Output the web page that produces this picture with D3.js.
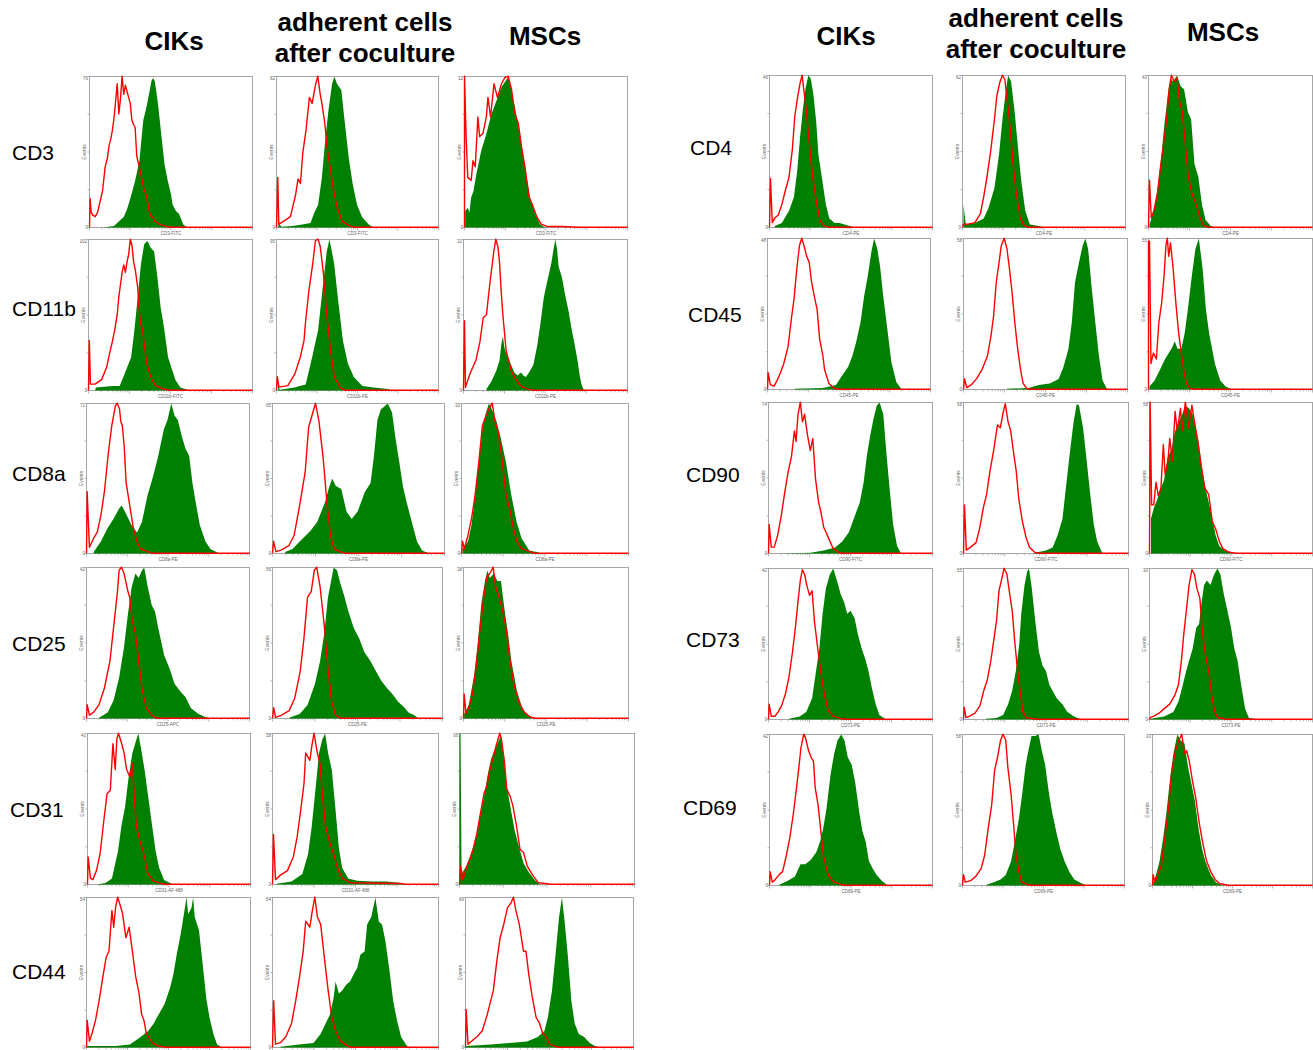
<!DOCTYPE html>
<html>
<head>
<meta charset="utf-8">
<script src="https://cdn.jsdelivr.net/npm/d3@7"></script>
<style>
  html, body { margin: 0; padding: 0; background: #fff; }
  svg { display: block; font-family: "Liberation Sans", Arial, sans-serif; }
</style>
</head>
<body>
<div id="fig"></div>
<script>
// Flow cytometry overlays: red = isotype control, green = stained sample.
// Each curve is [x, y] with x in % of the log axis width, y in % of the panel max.

const groups = ['CIKs', ['adherent cells', 'after coculture'], 'MSCs'];
const leftMarkers = ['CD3', 'CD11b', 'CD8a', 'CD25', 'CD31', 'CD44'];
const rightMarkers = ['CD4', 'CD45', 'CD90', 'CD73', 'CD69'];

const xLabels = {
  CD3: ['CD3-FITC', 'CD3-FITC', 'CD3-FITC'], CD11b: ['CD11b-FITC', 'CD11b-PE', 'CD11b-PE'],
  CD8a: ['CD8a-PE', 'CD8a-PE', 'CD8a-PE'], CD25: ['CD25-APC', 'CD25-PE', 'CD25-PE'],
  CD31: ['CD31-AF 488', 'CD31-AF 488', ''], CD44: ['', '', ''],
  CD4: ['CD4-PE', 'CD4-PE', 'CD4-PE'], CD45: ['CD45-PE', 'CD45-PE', 'CD45-PE'],
  CD90: ['CD90-FITC', 'CD90-FITC', 'CD90-FITC'], CD73: ['CD73-PE', 'CD73-PE', 'CD73-PE'],
  CD69: ['CD69-PE', 'CD69-PE', 'CD69-PE']
};
const maxTicks = {
  CD3: [76, 82, 32], CD11b: [102, 95, 31], CD8a: [71, 65, 33], CD25: [42, 56, 38],
  CD31: [41, 58, 36], CD44: [54, 54, 66], CD4: [46, 62, 43], CD45: [48, 58, 55],
  CD90: [74, 58, 58], CD73: [42, 55, 30], CD69: [42, 58, 33]
};

const CD3_iso = [
  [[0.4,19],[1,10],[2,8],[3.5,7],[5,10],[6.5,17],[8,24],[9.6,40],[11,46],[12,54],[13,58],[14,64],[15,72],[16,83],[17,95],[18,75],[19,85],[20,100],[21,88],[22,94],[23,90],[24,86],[25,82],[26,71],[27,68],[28,66],[29,47],[31,38],[33,27],[35,20],[37,9],[39,6],[40,4],[43,2],[47,0.5],[50,0]],
  [[0.8,33],[1.4,2],[4.5,4],[8.6,7],[11.7,21],[13.3,32],[14.8,29],[16.2,49],[18.3,65],[20.3,86],[22,82],[24,94],[25.5,100],[27,88],[28,82],[29.8,69],[31.2,53],[33.3,38],[35.3,24],[37.4,13],[40.5,4],[44.6,1],[48,0]],
  [[0,100],[1,60],[2,33],[4.1,31],[5.2,44],[6.6,40],[8.2,73],[9.3,60],[11.3,62],[13.4,73],[14.4,86],[16,73],[18.1,95],[20.2,86],[22.7,95],[24.7,99],[26.8,100],[28.9,91],[30.9,75],[33,69],[35,53],[37.1,40],[39.6,20],[41.6,15],[44.3,7],[47,2],[50.5,0.5],[60,0.5],[70,0]]
];
const CD3_stain = [
  [[8.6,0],[15,1],[18,4],[21,7],[23,12],[25,19],[28,31],[30.6,44],[32,60],[33,71],[35,80],[37,91],[38,97],[39,99],[40,97],[41,90],[42,82],[44,62],[46,42],[48,31],[50,22],[51,15],[53,11],[55,9],[57.5,2],[60,0]],
  [[1,0],[1.4,3],[3,0.5],[9.7,1],[15.8,2],[21,3],[23,9],[25.7,15],[28,33],[30,57],[32,77],[34.3,95],[35.7,100],[37.4,95],[40,91],[42,71],[44.6,46],[47,29],[49.7,15],[52.8,7],[56.9,2],[60,0]],
  [[0.4,11],[2,13],[3,10],[4.1,20],[5.5,24],[7.2,35],[10.3,51],[13.4,62],[16.5,75],[19.6,84],[22.7,93],[25.8,98],[26.8,100],[27.8,95],[30.9,80],[34,62],[37.1,40],[40.2,20],[43.3,9],[46.4,2],[49.5,0]]
];

const CD11b_iso = [
  [[0.5,33],[1.2,4],[4,4],[8,7],[11,15],[13,25],[14.5,32],[16,40],[17.5,50],[18.5,62],[19.5,70],[20.5,78],[21.5,83],[22.5,78],[23.5,85],[24.5,90],[25.5,100],[26.5,96],[27.5,85],[28.5,80],[30,68],[31,52],[32,43],[33,40],[34,30],[35.5,18],[37,12],[38.7,7],[41,3],[45,1],[50,0]],
  [[0.5,9],[1.5,2],[7,3],[11.4,11],[14.7,22],[17,33],[18,46],[20,66],[22.4,84],[24,99],[25.7,100],[27,95],[29,77],[31,50],[33.4,26],[35.6,9],[39,2],[42,0]],
  [[0.6,46],[1.2,2],[4,11],[7.6,20],[10,32],[12,48],[14,50],[16,70],[18.5,92],[19.7,100],[21,95],[22,84],[23,65],[24,50],[25,38],[26,26],[28,18],[29,13],[32,7],[34,4],[36,2],[40,0.5],[43,0]]
];
const CD11b_stain = [
  [[4,0],[4.5,2],[15,3],[19,3],[22,11],[26,22],[28,40],[30,62],[32,84],[34,97],[36,99],[37.6,95],[40,92],[42,75],[44,55],[46,42],[48.5,22],[50.6,15],[53,7],[56,2],[59,1],[62,0]],
  [[1,0],[1.2,3],[2,0.5],[11,2],[18,4],[22,22],[25.7,40],[29,73],[31,92],[32.7,100],[35.6,84],[37.8,62],[41,33],[44,18],[47.7,9],[53,3],[60,2],[68.6,1],[72,0]],
  [[14,1],[17,6],[20,13],[22,20],[23,30],[24,36],[25,28],[27,22],[29,17],[31,12],[33,10],[35,12],[36.5,10],[38,9],[40,12],[42.6,17],[45,30],[47,45],[49,62],[51,72],[53.5,84],[55,94],[56,100],[57,94],[58,82],[60,75],[62,63],[64,53],[66,40],[67.7,31],[69.5,20],[71,9],[72,4],[73,1],[75,0]]
];

const CD8a_iso = [
  [[0.4,41],[1.8,4],[4.4,10],[6.6,14],[8.8,25],[11,41],[13.2,65],[15.5,85],[17.7,98],[18.8,100],[20.3,96],[21,88],[22,85],[23.2,70],[24.3,47],[26.5,32],[28.7,17],[30.9,8],[33,3],[37.5,1],[40,0]],
  [[0.6,8],[2,1],[5,2],[9.5,5],[12.6,12],[15.8,32],[19,54],[21,84],[23,92],[25,100],[27,88],[29.5,63],[31.6,34],[33.7,12],[35.8,3],[39,1],[42,0]],
  [[0.6,8],[1.7,3],[3.9,12],[6,23],[8.2,39],[10.4,61],[12.5,85],[14.7,92],[16.8,97],[18.4,100],[20,88],[22,81],[24.4,61],[26.6,39],[28.7,30],[31,17],[33,8],[36,3],[40.6,1],[44,0]]
];
const CD8a_stain = [
  [[4.4,1],[8.8,8],[13,17],[16.5,23],[20,30],[21.6,32],[24,27],[27.6,19],[31,14],[34,21],[37.5,39],[41,52],[44,65],[47.5,83],[49.7,89],[52,100],[54,92],[56,89],[58.5,78],[60.7,70],[63,65],[65,47],[67,34],[69.5,19],[73,8],[76,3],[80.6,0.5],[82,0]],
  [[7.4,1],[11.6,3],[15.8,8],[22,15],[26,21],[30.5,34],[32.6,43],[34.7,50],[36.8,45],[40,43],[43,28],[46,23],[49.5,28],[53.7,41],[57,47],[59,65],[61,89],[63,96],[65,98],[67,100],[69.5,94],[71.6,76],[73.7,61],[75.8,45],[78,34],[81,21],[84,8],[87,2],[90,0.5],[92,0]],
  [[0.6,3],[3.9,8],[6,19],[8.2,39],[10.4,61],[12.5,83],[14.7,94],[16.4,100],[19,94],[21,88],[23.3,78],[26.6,61],[29.8,39],[33,21],[36,10],[40.6,2],[45,1],[48,0]]
];

const CD25_iso = [
  [[0.4,9],[1.8,2],[4.4,4],[7.7,9],[11,20],[14.4,38],[16.6,60],[19,84],[20,98],[21.5,100],[23,96],[25.4,84],[26.5,80],[28,65],[30,56],[32,38],[34,20],[36.5,7],[40,2],[43,0]],
  [[0.7,7],[1.8,0.5],[5.4,2],[9.8,5],[13,13],[16.3,31],[18.5,53],[20.6,80],[22.8,84],[24.6,98],[26,100],[28,87],[30.4,62],[32.6,33],[34.8,11],[37,2],[40,0]],
  [[0.4,16],[1.5,3],[3.2,7],[5.4,16],[7.6,34],[9.7,56],[12,78],[14,93],[16,96],[18,100],[19.4,87],[21.6,80],[23.8,71],[26,58],[28,40],[30,25],[33.5,11],[36.7,4],[41,0.5],[44,0]]
];
const CD25_stain = [
  [[7.7,0.5],[13,4],[16.6,12],[20,27],[23,47],[25.4,69],[27.7,87],[30,96],[32,93],[34,98],[35.4,100],[37.6,87],[40,75],[42,71],[44,60],[47.6,42],[51,33],[54,23],[57.5,18],[60.8,14],[64,7],[68.6,3],[73,1],[76,0]],
  [[9.8,0.5],[16,3],[20.6,9],[25,23],[28,38],[30.4,56],[32.6,80],[34.8,93],[36,100],[38,98],[40,89],[42,82],[44.6,71],[47.8,60],[51,53],[54,44],[57.6,38],[61,31],[64,25],[67.4,20],[70.6,16],[74,11],[77,8],[80,4],[83.7,2],[86,0]],
  [[0.4,3],[3.2,9],[6.5,29],[8.6,49],[10.8,76],[13,91],[14.5,98],[16,93],[18.4,96],[20.5,91],[22.7,91],[25,71],[27,56],[29,38],[32.4,18],[35.6,7],[39,2],[42,0]]
];

const CD31_iso = [
  [[0.4,18],[1.8,4],[3.3,3],[5.5,9],[7.7,20],[10,42],[12,60],[14,62],[15.6,93],[17,76],[18,96],[19,100],[21,93],[22.4,87],[24,76],[26,71],[27.5,80],[28.6,60],[30,38],[32,29],[34,22],[35,18],[37,7],[40.6,2],[45,0.5],[48,0]],
  [[0.6,33],[1.8,3],[4.8,6],[9,9],[12.5,18],[14.8,31],[17,49],[19,67],[20,87],[22.5,82],[23.6,91],[25,100],[27,87],[28.6,80],[30,60],[32,38],[34.6,27],[36.8,20],[39,11],[42,4],[46.7,1],[77.5,0.5],[80,0]],
  [[0.6,12],[2,3],[3.7,10],[5.8,16],[7.8,23],[10,34],[12,47],[14,60],[15.6,65],[17,74],[19,83],[21,92],[23,100],[24,96],[25.7,81],[27,63],[29,58],[30.5,52],[32.5,39],[34.6,23],[36.6,21],[38.7,12],[41.8,6],[45,1],[49,0.5],[52,0]]
];
const CD31_stain = [
  [[5.5,0],[11,1],[15,4],[18.7,22],[21,40],[23,51],[25,69],[27.5,87],[30,96],[31.2,100],[33,89],[35,76],[37,60],[39.5,40],[41.8,22],[44,11],[47,3],[51.6,0.5],[54,0]],
  [[2.6,0.5],[11.5,2],[18,7],[21.4,20],[23.6,38],[25.8,62],[28,87],[30,96],[31.7,100],[33.5,87],[35.7,76],[38,49],[40,24],[42,11],[45.6,4],[51,2.5],[60,2],[68.7,2],[77.5,1],[80,0]],
  [[0,100],[0.6,100],[1.2,7],[3.7,12],[5.8,18],[7.8,25],[10,34],[12,47],[14,58],[16,72],[18,83],[20,89],[22,94],[23.7,99],[25,87],[27,65],[29,52],[31.5,36],[33.5,27],[36.6,14],[39.7,8],[43,3],[46,0]]
];

const CD44_iso = [
  [[0.4,18],[1.8,4],[3.3,9],[5.5,18],[7.7,31],[10,47],[12,60],[13.7,64],[15.5,91],[16.6,80],[17.7,93],[19,100],[21,93],[22,89],[24,73],[26,80],[27.6,67],[30,47],[32,36],[33.6,22],[35,18],[36.5,9],[40,3],[43,1],[46,0.5],[48,0]],
  [[0.7,31],[1.8,2],[4.8,3],[8,7],[11.5,16],[14,31],[16.3,47],[18.5,64],[20,84],[22.5,80],[24,91],[25.5,100],[27,87],[29,82],[31,62],[33.5,38],[35.7,20],[38,11],[41,4],[45.6,0.5],[48,0]],
  [[0.4,25],[1.5,2],[3.6,4],[6.8,7],[10,11],[13,22],[16.6,38],[18.5,56],[20.6,73],[22.8,82],[25,93],[27,96],[28.5,100],[30,91],[32,82],[34.5,64],[36,64],[37.6,49],[39.8,33],[42,20],[44,16],[46,9],[48,7],[50,2],[53.6,0.5],[56,0]]
];
const CD44_stain = [
  [[0,1],[17.7,1],[26.5,2],[33,7],[37.6,11],[41,16],[44,22],[47.6,29],[51,40],[53,49],[55,62],[57.5,76],[59.7,91],[61,100],[62,89],[64,93],[65,100],[66,87],[68.6,78],[70.8,56],[73,33],[75,20],[77.4,9],[79.6,2],[82,0.5],[84,0]],
  [[4.8,0.5],[16,2],[24.7,3],[29,9],[32,16],[34.6,22],[36.8,33],[38,44],[40,36],[42,38],[44.5,42],[46.7,44],[49,49],[51,53],[53,62],[55.5,64],[57,82],[59.5,87],[62,100],[64,84],[66,82],[68,71],[70.5,51],[72.7,31],[75,18],[77.5,7],[81,1],[83,0]],
  [[0.4,1],[15,2],[26,3],[36.6,4],[43,7],[47,11],[49,20],[51.5,38],[53.6,62],[55.7,87],[57.4,100],[59,84],[61,60],[63,31],[65,16],[67.4,9],[70.6,7],[74,3],[77,1],[80,0]]
];

const CD4_iso = [
  [[0.6,32],[1.7,3],[3.2,6],[5.4,8],[7.6,15],[9.7,24],[12,33],[14,51],[15.5,73],[17.3,86],[18.8,95],[20,100],[21,91],[22.7,76],[24,60],[26,38],[27.4,26],[29,15],[31,4],[33.5,1],[36,0]],
  [[0.6,2],[3.3,2],[7.6,3],[11,9],[13,20],[15,33],[17.4,51],[19.6,71],[21,86],[22.8,95],[24.5,100],[26,97],[27.6,82],[29.3,64],[31,42],[33,22],[35.4,6],[38,1],[40,0]],
  [[0.6,31],[1.7,6],[3.3,11],[5.4,22],[7.6,42],[9,53],[11,71],[12.6,91],[14,100],[15.6,96],[17.4,98],[19,82],[20.6,76],[23,48],[24.3,33],[26.5,22],[29,15],[31.5,6],[33.7,1],[36,0]]
];
const CD4_stain = [
  [[3.2,1],[7.6,3],[12,11],[15,20],[17,37],[18.8,60],[20.5,78],[22,91],[23.8,100],[25.3,98],[27,87],[28.7,69],[30,48],[32.4,31],[34.6,15],[36.7,6],[40,3],[43,3],[46,2],[50.8,0.5],[55,0]],
  [[0.6,15],[2,2],[7.6,3],[13,6],[16,13],[19.6,26],[22.4,48],[24.5,71],[26.7,91],[28,100],[29.8,96],[32,76],[34,53],[36,31],[38.5,11],[41.3,2],[46.7,1],[51,0]],
  [[0.6,2],[3.3,11],[5.4,24],[7.6,44],[9.8,69],[12,89],[13.5,98],[15,96],[17.4,100],[19.6,93],[21.7,91],[24,76],[26,71],[28,42],[30.4,33],[32.6,15],[34.8,5],[38,1],[41,0]]
];

const CD45_iso = [
  [[0.4,11],[1.7,3],[4,2],[6,6],[8,11],[10,17],[12.6,28],[14.8,48],[16.3,60],[18,80],[19.6,95],[21,100],[22.4,95],[24,88],[25.6,84],[27,71],[29,60],[30.4,53],[32,33],[34,22],[35,13],[37.6,4],[41,0.5],[44,0]],
  [[0.6,7],[2,1],[4.8,3],[8,7],[11.3,13],[14.6,22],[16.7,35],[18.3,48],[20,71],[21.7,84],[23,95],[24.8,100],[26.5,93],[28,80],[29.8,62],[31.3,44],[33,27],[34.8,13],[36.3,4],[38.5,0.5],[41,0]],
  [[0,98],[0.6,98],[1.5,17],[3,24],[4.8,20],[6.3,44],[8,57],[9.5,75],[10.6,95],[11.5,100],[12.3,88],[13.4,97],[15,80],[16.7,57],[18.4,37],[20,24],[21.4,13],[23,4],[25.3,0.5],[28,0]]
];
const CD45_stain = [
  [[16.5,0.5],[34,1],[38,2],[42,3],[45,8],[49.5,15],[52,22],[54.3,31],[57,44],[59.3,62],[61.5,75],[63.7,91],[65.4,100],[67.4,93],[69,82],[71,62],[73.5,40],[76,18],[79,5],[82,0.5],[84,0]],
  [[26.5,0.5],[39.6,1],[46,3],[52.6,4],[58,7],[61,15],[64,27],[66,44],[68,71],[70.4,84],[72.6,95],[74.3,100],[76,93],[78,69],[80.4,44],[82.6,22],[84.8,6],[87.4,0.5],[89,0]],
  [[0.6,2],[3.7,6],[7,13],[10,20],[12.3,24],[14.5,28],[16,32],[17.7,27],[20,27],[22,37],[24,53],[26.4,75],[28.6,93],[30.7,100],[33,80],[35,53],[37,37],[40.5,17],[43.7,6],[47,2],[50,0.5],[52,0]]
];

const CD90_iso = [
  [[0.4,19],[1.7,4],[3.5,4],[5.6,12],[7.8,25],[10,41],[12,54],[14,64],[15.8,81],[16.8,74],[18,92],[19.4,100],[20.7,87],[22,92],[23.8,78],[25.5,68],[27,76],[28.7,49],[30.5,34],[32,27],[33.7,17],[35,14],[37.4,8],[39.5,3],[42.8,0.5],[45,0]],
  [[0.6,32],[1.7,2],[4.3,4],[7.6,7],[9.7,16],[12,30],[14,39],[16,54],[18.4,69],[20.6,85],[22.3,83],[23.8,92],[25.3,99],[27,87],[28.6,81],[30.3,67],[32,54],[33.5,36],[35.7,21],[38,10],[40,4],[43.3,0.5],[46,0]],
  [[0.4,100],[1.3,32],[2.6,32],[4,47],[5.4,38],[7,43],[8.5,72],[9.6,52],[11.3,61],[12.4,76],[14,61],[15.7,94],[17,81],[19,96],[20,81],[22,100],[24,83],[26,98],[27.6,87],[29.8,73],[32,56],[34,43],[36.3,39],[38.5,21],[40.6,16],[42.8,8],[45,3],[48,1],[50,0.5],[53,0]]
];
const CD90_stain = [
  [[8,0],[25.5,0.5],[33.7,2],[40.6,4],[45,8],[49,14],[52,23],[55.7,34],[58,47],[60,65],[62,78],[64,89],[66,98],[67.8,100],[70,92],[72,65],[74,41],[76,19],[78.4,5],[80.6,0.5],[82,0]],
  [[43,0.5],[50,2],[54,4],[57,12],[60,23],[62,43],[64.5,67],[66.7,87],[68.6,99],[70,98],[72.5,83],[74.7,61],[76.8,39],[79,19],[81,8],[84,0.5],[86,0]],
  [[0.9,23],[2.6,30],[4.8,36],[7,43],[9,49],[11,63],[13.5,69],[15.7,81],[17.8,87],[20,92],[22,98],[24.3,96],[26.5,92],[29.8,76],[32,58],[34,45],[36.3,34],[38.5,23],[40.6,12],[42.8,5],[46,2],[49,1],[51,0]]
];

const CD73_iso = [
  [[0.4,10],[1.7,2],[4,2],[6,5],[8,9],[10.4,17],[12.5,28],[14.7,45],[16.4,61],[18,78],[19.4,92],[20.7,99],[22,96],[23.3,89],[25,82],[26.6,85],[28,65],[30,47],[32,30],[34,17],[36.3,6],[39.5,2],[43.8,0.5],[46,0]],
  [[0.4,8],[1.5,1],[3.7,2],[7,4],[10,9],[12.3,19],[14.4,26],[16.6,39],[18.3,52],[20,65],[21.5,85],[23,92],[24.6,100],[26.3,96],[28,83],[29.5,72],[31,52],[32.8,32],[34.5,17],[36,5],[38,1],[41.4,0.5],[44,0]],
  [[0.4,1],[2.6,2],[5.9,4],[9,7],[12.4,10],[15.6,16],[17.8,23],[19.6,39],[21,56],[22.6,72],[24.3,89],[26,99],[27.6,96],[29,87],[30.9,80],[32.6,56],[34.3,43],[36.3,32],[38,17],[40,5],[41.7,1],[45,0.5],[47,0]]
];
const CD73_stain = [
  [[12.5,0.5],[19,2],[23,5],[26.6,14],[28.7,30],[31,47],[33,70],[35,87],[37.4,96],[39.5,100],[41.7,92],[44,83],[46,78],[48,70],[50,72],[52.5,67],[54.6,56],[56.8,47],[59,40],[61,32],[63,21],[65.4,10],[67.6,3],[71,0.5],[73,0]],
  [[13.4,0.5],[20,1],[24,3],[27,10],[29.5,19],[31.7,32],[33.8,50],[35,70],[37,89],[38.6,98],[39.7,100],[41.4,87],[43.5,65],[45.7,45],[47.8,36],[50,32],[52,23],[54,19],[56.5,14],[60,10],[63,5],[67,2],[70.5,0.5],[72,0]],
  [[0.4,0.5],[9,2],[14.6,5],[17.8,12],[20,21],[22,30],[24.3,39],[26.5,47],[28.7,61],[30.4,63],[32,78],[33.5,89],[35.2,92],[37.4,89],[39.6,96],[41.7,100],[43.5,96],[45.6,83],[47.8,72],[50,61],[52,47],[54,39],[56.5,21],[58.7,7],[61,1],[64.5,0.5],[66,0]]
];

const CD69_iso = [
  [[0.4,9],[1.7,2],[3.7,4],[5.9,7],[8,9],[10,18],[12.4,31],[14.6,47],[16.3,62],[17.8,76],[19.3,91],[21,100],[22,98],[24,89],[25.4,85],[27,82],[28,65],[29.8,53],[31.3,38],[33,20],[34.8,11],[36.3,6],[39.6,2],[44,0.5],[46,0]],
  [[0.6,7],[1.7,2],[5,3],[8.3,6],[11.5,11],[13.7,20],[15.9,38],[18,53],[19.8,76],[21.7,85],[23.5,96],[25,100],[26.7,96],[28,78],[30,60],[31.7,38],[33,20],[34.8,9],[36.5,2],[39.8,0.5],[42,0]],
  [[0.4,7],[1.5,2],[3.3,7],[5.5,13],[7.7,31],[10,51],[12,75],[14.3,89],[16.5,96],[18.3,100],[20,87],[21.4,89],[23,82],[25,69],[27,58],[29.4,40],[31.6,27],[33.8,16],[36.4,9],[39,4],[42,1],[45,0.5],[47,0]]
];
const CD69_stain = [
  [[6,0.5],[11,3],[15.6,6],[19,14],[22,14],[25.4,17],[28.7,22],[31,29],[33,38],[35,51],[37.4,73],[39.6,87],[41.7,96],[44,100],[46,96],[48,85],[50.4,80],[52.6,68],[55,49],[57,36],[59,29],[61,16],[63.5,11],[65.7,7],[69,3],[72,0.5],[74,0]],
  [[14.8,0.5],[19,2],[23.5,4],[26.7,7],[30,16],[32.6,31],[34.8,44],[37,62],[39,80],[41,91],[42.6,99],[44.8,99],[47,100],[49,89],[51,80],[53.5,60],[55.6,47],[57.8,36],[60.4,24],[63,16],[66,9],[69,4],[72.4,2],[75.6,0.5],[77,0]],
  [[0.4,2],[2.2,7],[4.4,16],[6.6,31],[8.8,49],[11,71],[13,87],[15.5,100],[17.7,96],[20,94],[22,80],[24,69],[26.5,56],[28.7,38],[31,24],[33,16],[36.4,7],[39.7,2],[43,0.5],[45,0]]
];

const isoData = { CD3: CD3_iso, CD11b: CD11b_iso, CD8a: CD8a_iso, CD25: CD25_iso, CD31: CD31_iso, CD44: CD44_iso,
  CD4: CD4_iso, CD45: CD45_iso, CD90: CD90_iso, CD73: CD73_iso, CD69: CD69_iso };
const stainData = { CD3: CD3_stain, CD11b: CD11b_stain, CD8a: CD8a_stain, CD25: CD25_stain, CD31: CD31_stain, CD44: CD44_stain,
  CD4: CD4_stain, CD45: CD45_stain, CD90: CD90_stain, CD73: CD73_stain, CD69: CD69_stain };

// Layout: panel frames [left, right] per column and [top, bottom] per row.
const layout = {
  CD3:   { y: [76, 227],  x: [[89, 252], [276, 438], [464, 627]], label: [12, 160] },
  CD11b: { y: [239, 390], x: [[88, 252], [276, 438], [463, 627]], label: [12, 316] },
  CD8a:  { y: [403, 553], x: [[86, 249], [272, 444], [461, 628]], label: [12, 481] },
  CD25:  { y: [567, 718], x: [[86, 249], [272, 442], [463, 628]], label: [12, 651] },
  CD31:  { y: [733, 884], x: [[87, 250], [272, 438], [459, 634]], label: [10, 817] },
  CD44:  { y: [897, 1047], x: [[86, 250], [272, 438], [465, 633]], label: [12, 979] },
  CD4:   { y: [75, 227],  x: [[769, 932], [962, 1125], [1148, 1312]], label: [690, 155] },
  CD45:  { y: [238, 389], x: [[767, 930], [963, 1127], [1148, 1312]], label: [688, 322] },
  CD90:  { y: [402, 553], x: [[768, 932], [963, 1128], [1149, 1312]], label: [686, 482] },
  CD73:  { y: [568, 719], x: [[768, 932], [963, 1128], [1149, 1312]], label: [686, 647] },
  CD69:  { y: [734, 885], x: [[769, 932], [962, 1124], [1152, 1312]], label: [683, 815] }
};
const headers = [
  { cx: [174, 365, 545], base: [50, 31, 45] },
  { cx: [846, 1036, 1223], base: [45, 27, 41] }
];

const W = 1313, H = 1050;
const RED = '#ff0000', GREEN = '#008000', FRAME = '#a6a6a6', INK = '#666';

const svg = d3.select('#fig').append('svg').attr('width', W).attr('height', H)
  .attr('viewBox', `0 0 ${W} ${H}`);

// Column headings
headers.forEach((hd) => {
  groups.forEach((gname, i) => {
    const t = svg.append('text').attr('x', hd.cx[i]).attr('y', hd.base[i])
      .attr('text-anchor', 'middle').attr('font-size', 26).attr('font-weight', 'bold').attr('fill', '#000');
    if (Array.isArray(gname)) {
      gname.forEach((ln, k) => t.append('tspan').attr('x', hd.cx[i]).attr('dy', k ? 31 : 0).text(ln));
    } else t.text(gname);
  });
});

function drawPanel(g, w, h, iso, stain, maxLabel, xLabel) {
  const x = d3.scaleLinear().domain([0, 100]).range([0, w]);
  const y = d3.scaleLinear().domain([0, 100]).range([h, 0]);
  const xLog = d3.scaleLog().domain([1, 1e4]).range([0, w]);

  g.append('rect').attr('width', w).attr('height', h).attr('fill', '#fff')
    .attr('stroke', FRAME).attr('stroke-width', 1);

  // log-decade ticks under the frame
  xLog.ticks().forEach((v) => {
    const major = Math.abs(Math.log10(v) % 1) < 1e-9;
    g.append('line').attr('x1', xLog(v)).attr('x2', xLog(v))
      .attr('y1', h).attr('y2', h + (major ? 3 : 1.8))
      .attr('stroke', '#999').attr('stroke-width', 0.7);
  });
  [0, 25, 50, 75, 100].forEach((v) => {
    g.append('line').attr('x1', -2).attr('x2', 0).attr('y1', y(v)).attr('y2', y(v))
      .attr('stroke', '#999').attr('stroke-width', 0.7);
  });

  g.append('path').datum(stain).attr('fill', GREEN).attr('stroke', 'none')
    .attr('d', d3.area().x((d) => x(d[0])).y0(y(0)).y1((d) => y(d[1])));

  const xMax = x.domain()[1];
  const redPts = [[0, 0], ...iso, [xMax, 0]];
  g.append('path').datum(redPts).attr('fill', 'none').attr('stroke', RED)
    .attr('stroke-width', 1.4).attr('stroke-linejoin', 'round')
    .attr('d', d3.line().x((d) => x(d[0])).y((d) => y(d[1]) - 0.3));

  g.append('text').attr('x', -1.5).attr('y', 3.5).attr('text-anchor', 'end')
    .attr('font-size', 4.5).attr('fill', INK).text(maxLabel);
  g.append('text').attr('x', -1.5).attr('y', h + 1.5).attr('text-anchor', 'end')
    .attr('font-size', 4.5).attr('fill', INK).text('0');
  g.append('text').attr('transform', `translate(-3.5,${h / 2}) rotate(-90)`)
    .attr('text-anchor', 'middle').attr('font-size', 5).attr('fill', INK).text('Events');
  if (xLabel) {
    g.append('text').attr('x', w / 2).attr('y', h + 7).attr('text-anchor', 'middle')
      .attr('font-size', 4.5).attr('fill', INK).text(xLabel);
  }
}

[...leftMarkers, ...rightMarkers].forEach((m) => {
  const L = layout[m];
  svg.append('text').attr('x', L.label[0]).attr('y', L.label[1])
    .attr('font-size', 21).attr('fill', '#000').text(m);
  L.x.forEach(([x0, x1], c) => {
    const g = svg.append('g').attr('transform', `translate(${x0 + 0.5},${L.y[0] + 0.5})`);
    drawPanel(g, x1 - x0, L.y[1] - L.y[0], isoData[m][c], stainData[m][c], maxTicks[m][c], xLabels[m][c]);
  });
});
</script>
</body>
</html>
